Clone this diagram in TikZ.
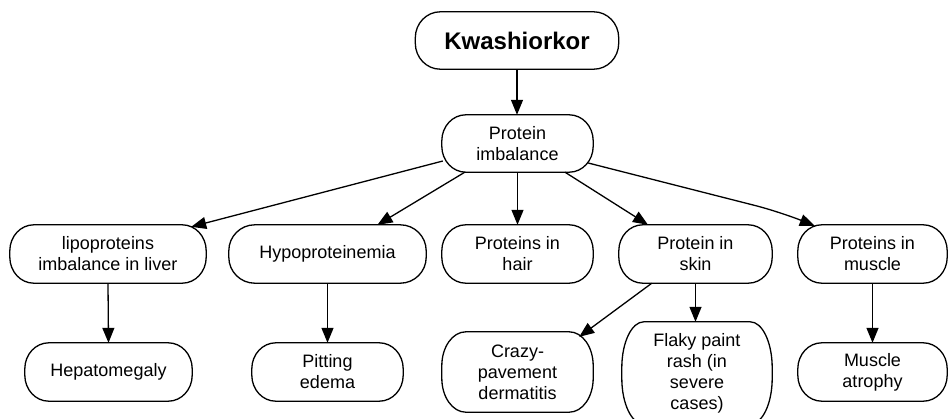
\documentclass[tikz,border=0pt]{standalone}
\usepackage{fontspec}
\setmainfont{Liberation Sans}
\usetikzlibrary{arrows.meta,calc}

\tikzset{
  box/.style={inner sep=0pt, align=center, font=\fontsize{18}{21}\selectfont},
  outline/.style={line width=1.3pt, line join=round},
  link/.style={line width=1.3pt, -{Triangle[length=15pt,width=12pt]}},
}

% Pill-shaped frame around a node: #1 node, #2 horizontal and #3 vertical corner radius (pt)
\newcommand\pillframe[3]{%
  \draw[outline] ($(#1.north west)+(#2,0)$) -- ($(#1.north east)+(-#2,0)$)
    arc[start angle=90,end angle=0,x radius=#2pt,y radius=#3pt]
    -- ($(#1.south east)+(0,-#3)$)
    arc[start angle=0,end angle=-90,x radius=#2pt,y radius=#3pt]
    -- ($(#1.south west)+(#2,0)$)
    arc[start angle=-90,end angle=-180,x radius=#2pt,y radius=#3pt]
    -- ($(#1.north west)+(0,#3)$)
    arc[start angle=180,end angle=90,x radius=#2pt,y radius=#3pt]
    -- cycle;}

\begin{document}
\begin{tikzpicture}[x=1pt,y=-1pt]
\fill[white] (0,0) rectangle (948,418);
\useasboundingbox (0,0) rectangle (948,418);

% top levels
\node[box, font=\fontsize{24}{28}\selectfont\bfseries, minimum width=203pt, minimum height=57pt] (kw) at (517,40.5) {Kwashiorkor};
\node[box, minimum width=151pt, minimum height=57pt] (pi) at (517.5,143.5) {Protein\\imbalance};

% middle row
\node[box, minimum width=196pt, minimum height=58pt] (lip) at (108,254) {lipoproteins\\imbalance in liver};
\node[box, minimum width=197pt, minimum height=58pt] (hyp) at (327.5,254) {Hypoproteinemia};
\node[box, minimum width=151pt, minimum height=58pt] (hair) at (517.5,254) {Proteins in\\hair};
\node[box, minimum width=153pt, minimum height=58pt] (skin) at (695.5,254) {Protein in\\skin};
\node[box, minimum width=149pt, minimum height=58pt] (musc) at (872.5,254) {Proteins in\\muscle};

% bottom row
\node[box, minimum width=167pt, minimum height=58pt] (hep) at (108.5,372) {Hepatomegaly};
\node[box, minimum width=151pt, minimum height=58pt] (pit) at (327.5,372) {Pitting\\edema};
\node[box, minimum width=151pt, minimum height=80pt] (crazy) at (517.5,372) {Crazy-\\pavement\\dermatitis};
\node[box, minimum width=150pt, minimum height=102pt] (flaky) at (697,373) {Flaky paint\\rash (in\\severe\\cases)};
\node[box, minimum width=149pt, minimum height=58pt] (atro) at (872.5,372) {Muscle\\atrophy};

% frames
\pillframe{kw}{25}{26}
\pillframe{pi}{24}{26}
\pillframe{lip}{24}{26}
\pillframe{hyp}{26}{26}
\pillframe{hair}{24}{26}
\pillframe{skin}{24}{26}
\pillframe{musc}{24}{26}
\pillframe{hep}{24}{26}
\pillframe{pit}{24}{26}
\pillframe{crazy}{24}{34}
\pillframe{flaky}{22}{46}
\pillframe{atro}{24}{26}

% connectors
\draw[link] (kw.south) -- (kw.south |- pi.north);
\draw[link] ($(pi.west)+(1,17.5)$) -- ($(lip.north east)+(-15,2)$);
\draw[link] ($(pi.south west)+(23,0)$) -- ($(hyp.north)+(50,0)$);
\draw[link] (pi.south) -- (hair.north);
\draw[link] ($(pi.south)+(47.5,0)$) -- ($(skin.north)+(-47.5,0)$);
\draw[link, rounded corners=25pt] ($(pi.east)+(-5,19.5)$) -- ($(musc.north west)+(-18,-13)$) -- ($(musc.north west)+(17,1)$);
\draw[link] (lip.south) -- (hep.north);
\draw[link] (hyp.south) -- (pit.north);
\draw[link] ($(skin.south west)+(33,0)$) -- ($(crazy.north east)+(-14,5)$);
\draw[link] (skin.south) -- (skin.south |- flaky.north);
\draw[link] (musc.south) -- (atro.north);
\end{tikzpicture}
\end{document}
